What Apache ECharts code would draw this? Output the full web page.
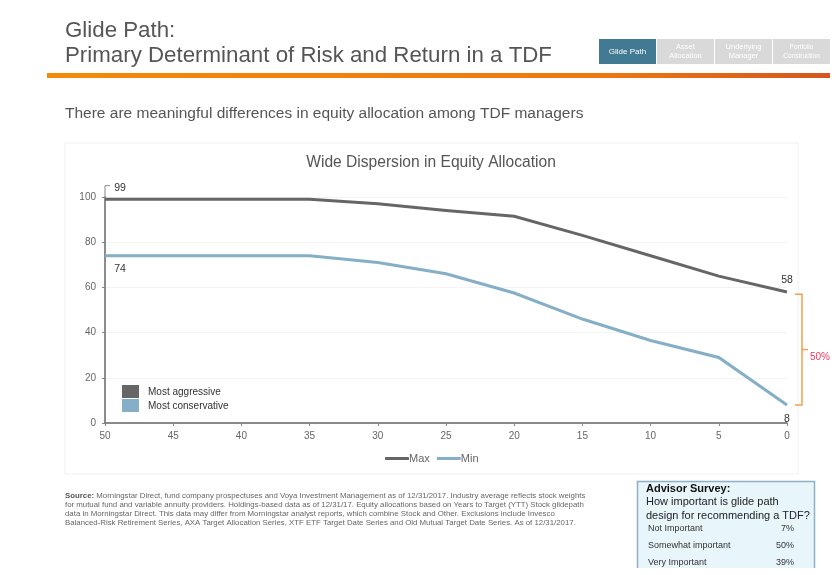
<!DOCTYPE html>
<html>
<head>
<meta charset="utf-8">
<style>
  html, body { margin: 0; padding: 0; background: #fff; }
  #chart { width: 836px; height: 575px; }
</style>
<script src="https://cdn.jsdelivr.net/npm/echarts@6/dist/echarts.min.js"></script>
</head>
<body>
<div id="chart"></div>
<script>
const yearsToTarget = ['50', '45', '40', '35', '30', '25', '20', '15', '10', '5', '0'];
const maxValues = [99, 99, 99, 99, 97, 94, 91.5, 83, 74, 65, 58];
const minValues = [74, 74, 74, 74, 71, 66, 57.5, 46, 36.5, 29, 8];
const tabLabels = ['Glide Path', 'Asset\nAllocation', 'Underlying\nManager', 'Portfolio\nConstruction'];
const sourceLines = [
  'Morningstar Direct, fund company prospectuses and Voya Investment Management as of 12/31/2017. Industry average reflects stock weights',
  'for mutual fund and variable annuity providers. Holdings-based data as of 12/31/17. Equity allocations based on Years to Target (YTT) Stock glidepath',
  'data in Morningstar Direct. This data may differ from Morningstar analyst reports, which combine Stock and Other. Exclusions include Invesco',
  'Balanced-Risk Retirement Series, AXA Target Allocation Series, XTF ETF Target Date Series and Old Mutual Target Date Series. As of 12/31/2017.'
];
const surveyAnswers = ['Not Important', 'Somewhat important', 'Very Important'];
const surveyShares = ['7%', '50%', '39%'];

const FONT = '"Liberation Sans", Arial, sans-serif';
const chart = echarts.init(document.getElementById('chart'));

function text(x, y, str, size, color, extra) {
  return {
    type: 'text', x, y, z: 5,
    style: { text: str, fontFamily: FONT, fontSize: size, fill: color, ...extra }
  };
}

function pointLabel(value, position, offset) {
  return {
    value,
    label: { show: true, position, offset, formatter: String(value), color: '#333', fontSize: 10.5, fontFamily: FONT }
  };
}

function withLabels(values, labels) {
  return values.map((v, i) => labels[i] || v);
}

const tabX = [599, 657, 715, 773];
const pageGraphics = [
  // card behind the chart
  { type: 'rect', z: -1, shape: { x: 65, y: 143, width: 733, height: 331 }, style: { fill: '#fff', stroke: '#f0f0f0' } },
  text(65, 19.5, 'Glide Path:', 22.3, '#555'),
  text(65, 44.5, 'Primary Determinant of Risk and Return in a TDF', 22.3, '#555'),
  {
    type: 'rect',
    shape: { x: 47, y: 73, width: 783, height: 5 },
    style: {
      fill: new echarts.graphic.LinearGradient(0, 0, 1, 0, [
        { offset: 0, color: '#f58a07' },
        { offset: 0.7, color: '#f0780f' },
        { offset: 1, color: '#d4561f' }
      ])
    }
  },
  text(65, 105.5, 'There are meaningful differences in equity allocation among TDF managers', 15.5, '#555'),
  ...tabLabels.flatMap((label, i) => [
    { type: 'rect', shape: { x: tabX[i], y: 39, width: 57, height: 25 }, style: { fill: i === 0 ? '#427a94' : '#d9d9d9' } },
    text(tabX[i] + 28.5, 51.5, label, i === 3 ? 6.5 : i === 0 ? 8 : 7.5, '#fff', { align: 'center', verticalAlign: 'middle', lineHeight: 9.5 })
  ]),
  // inner key
  { type: 'rect', shape: { x: 122, y: 385, width: 17, height: 13 }, style: { fill: '#666' } },
  { type: 'rect', shape: { x: 122, y: 399, width: 17, height: 13 }, style: { fill: '#84afc6' } },
  text(148, 387, 'Most aggressive', 10, '#333'),
  text(148, 401, 'Most conservative', 10, '#333'),
  // source note
  {
    type: 'text', x: 65, y: 491,
    style: {
      text: '{b|Source:} ' + sourceLines.join('\n'),
      fontFamily: FONT, fontSize: 7.84, lineHeight: 9.2, fill: '#666',
      rich: { b: { fontWeight: 'bold', fontFamily: FONT, fontSize: 7.84, fill: '#555' } }
    }
  },
  // survey box, cut off at the bottom like the slide crop
  { type: 'rect', shape: { x: 637.5, y: 481.5, width: 177, height: 86.5 }, style: { fill: '#e8f5fb' } },
  {
    type: 'polyline',
    shape: { points: [[637.5, 568], [637.5, 481.5], [814.5, 481.5], [814.5, 568]] },
    style: { fill: null, stroke: '#8fb0c4', lineWidth: 1.5 }
  },
  text(646, 483, 'Advisor Survey:', 11, '#111', { fontWeight: 'bold' }),
  text(646, 496, 'How important is glide path', 11, '#222'),
  text(646, 510, 'design for recommending a TDF?', 11, '#222'),
  ...surveyAnswers.flatMap((answer, i) => [
    text(648, 524 + i * 17, answer, 9, '#333'),
    text(794, 524 + i * 17, surveyShares[i], 9, '#333', { align: 'right' })
  ])
];

chart.setOption({
  animation: false,
  backgroundColor: '#fff',
  textStyle: { fontFamily: FONT },
  title: {
    text: 'Wide Dispersion in Equity Allocation',
    left: 426, top: 150, textAlign: 'center',
    textStyle: { fontSize: 15.6, fontWeight: 'normal', color: '#555', fontFamily: FONT }
  },
  grid: { left: 105, right: 49, top: 197, height: 226 },
  legend: {
    data: ['Max', 'Min'],
    left: 380, top: 448,
    icon: 'roundRect', itemWidth: 24, itemHeight: 3, itemGap: 7,
    textStyle: { fontSize: 11, color: '#666', padding: [0, 0, 0, -5], fontFamily: FONT }
  },
  xAxis: {
    type: 'category',
    data: yearsToTarget,
    boundaryGap: false,
    axisLine: { lineStyle: { color: '#666', width: 1.5 } },
    axisTick: { length: 3, lineStyle: { color: '#888' } },
    axisLabel: { color: '#666', fontSize: 10, margin: 8, fontFamily: FONT }
  },
  yAxis: {
    type: 'value', min: 0, max: 100, interval: 20,
    axisLine: { show: true, lineStyle: { color: '#666', width: 1.5 } },
    axisTick: { show: true, length: 3, lineStyle: { color: '#888' } },
    axisLabel: { color: '#666', fontSize: 10, margin: 9, fontFamily: FONT },
    splitLine: { lineStyle: { color: '#f3f3f3' } }
  },
  series: [
    {
      name: 'Max', type: 'line', symbol: 'circle', symbolSize: 0, silent: true,
      lineStyle: { color: '#666', width: 3, cap: 'butt', join: 'miter' },
      itemStyle: { color: '#666' },
      data: withLabels(maxValues, {
        0: pointLabel(99, 'top', [15, -1]),
        10: pointLabel(58, 'top', [0, -1])
      })
    },
    {
      name: 'Min', type: 'line', symbol: 'circle', symbolSize: 0, silent: true,
      lineStyle: { color: '#84afc6', width: 3, cap: 'butt', join: 'miter' },
      itemStyle: { color: '#84afc6' },
      data: withLabels(minValues, {
        0: pointLabel(74, 'bottom', [15, 3]),
        10: pointLabel(8, 'bottom', [0, 4])
      })
    }
  ],
  graphic: pageGraphics
});

// the annotations follow the axis scales, so they go in after the first layout
const toPx = (idx, value) => chart.convertToPixel({ gridIndex: 0 }, [idx, value]);
const lastIdx = yearsToTarget.length - 1;
const [xEnd, yTop] = toPx(lastIdx, 57);
const [, yBottom] = toPx(lastIdx, 8);
const yMid = (yTop + yBottom) / 2;
const [xStart, yLabel] = toPx(0, 105);
const [, y100] = toPx(0, 100);
const bracket = { stroke: '#f5a04a', lineWidth: 1.5, fill: null };

chart.setOption({
  graphic: pageGraphics.concat([
    {
      type: 'polyline',
      shape: { points: [[xEnd + 8, yTop], [xEnd + 15, yTop], [xEnd + 15, yBottom], [xEnd + 8, yBottom]] },
      style: bracket
    },
    { type: 'line', shape: { x1: xEnd + 15, y1: yMid, x2: xEnd + 21, y2: yMid }, style: bracket },
    text(xEnd + 23, yMid + 3, '50%', 10, '#f0385a'),
    {
      type: 'polyline',
      shape: { points: [[xStart + 5, yLabel], [xStart, yLabel], [xStart, y100]] },
      style: { stroke: '#888', lineWidth: 1, fill: null }
    }
  ])
});
</script>
</body>
</html>
